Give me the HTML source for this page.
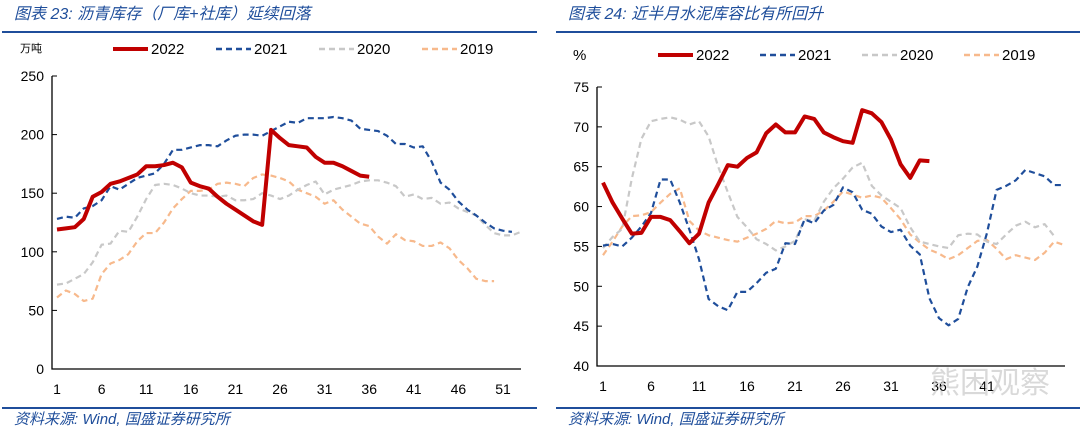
<!DOCTYPE html>
<html><head><meta charset="utf-8">
<style>
html,body{margin:0;padding:0;background:#fff;}
svg{display:block;font-family:"Liberation Sans","Noto Sans CJK SC",sans-serif;}
.ttl{fill:#1f4e9b;font-style:italic;font-size:16px;}
.src{fill:#1f4e9b;font-style:italic;font-size:15px;}
.tk{fill:#000;font-size:14px;}
.lg{fill:#000;font-size:15px;}
</style></head>
<body>
<svg id="c" width="1080" height="434" viewBox="0 0 1080 434">
<text class="ttl" x="14" y="19">图表 23:  沥青库存（厂库+社库）延续回落</text>
<rect x="2" y="31" width="535" height="2" fill="#1f4e9b"/>
<rect x="2" y="407" width="535" height="2" fill="#1f4e9b"/>
<text class="src" x="14" y="424">资料来源:  Wind, 国盛证券研究所</text>
<text class="ttl" x="568" y="19">图表 24:  近半月水泥库容比有所回升</text>
<rect x="556" y="31" width="524" height="2" fill="#1f4e9b"/>
<rect x="556" y="407" width="524" height="2" fill="#1f4e9b"/>
<text class="src" x="568" y="424">资料来源:  Wind, 国盛证券研究所</text>
<text x="20" y="52" font-size="11" fill="#000">万吨</text>
<text x="573" y="60" font-size="15" fill="#000">%</text>
<g id="L"></g>
<g id="R"></g>
<text x="930" y="393" font-size="30" fill="#d0d0d0" opacity="0.8">熊困观察</text>
</svg>
<script>
const years = ["2022","2021","2020","2019"];
const asphalt2022 = [119,120,121,128,147,151,158,160,163,166,173,173,174,176,172,159,156,154,147,141,136,131,126,123,204,197,191,190,189,181,176,176,173,169,165,164];
const asphalt2021 = [128,130,129,137,139,144,156,153,158,163,165,167,175,187,187,189,191,191,190,195,199,200,200,199,203,207,211,210,214,214,214,215,214,212,205,204,203,199,192,192,189,190,177,159,153,143,136,131,125,120,118,117];
const asphalt2020 = [72,73,77,81,91,106,107,118,117,130,145,157,158,157,154,150,148,148,147,148,144,144,145,150,148,145,148,153,157,160,149,153,155,157,160,161,161,159,156,147,149,145,146,141,142,137,134,131,123,116,114,114,117];
const asphalt2019 = [61,67,64,58,60,81,90,93,98,109,116,116,125,137,145,152,152,153,158,159,158,156,163,166,165,163,160,153,150,147,141,144,136,130,124,122,113,107,115,110,109,105,105,108,103,93,86,77,75,75];
const leftYTicks = [0,50,100,150,200,250];
const leftXTicks = [1,6,11,16,21,26,31,36,41,46,51];

const cement2022 = [63.0,60.5,58.5,56.6,56.7,58.7,58.7,58.3,56.9,55.4,56.6,60.5,62.8,65.2,65.0,66.1,66.8,69.2,70.3,69.3,69.3,71.3,71.0,69.3,68.7,68.2,68.0,72.1,71.7,70.6,68.4,65.3,63.6,65.8,65.7];
const cement2021 = [55.1,55.3,55.0,56.1,57.5,59.2,63.4,63.4,60.5,57.1,53.4,48.4,47.5,47.0,49.3,49.3,50.4,51.7,52.2,55.4,55.3,58.4,57.9,59.5,60.2,62.4,61.8,59.6,59.1,57.5,56.8,57.1,55.1,54.0,48.5,46.0,45.1,45.9,49.9,52.5,56.7,62.1,62.6,63.3,64.6,64.2,63.8,62.7,62.7];
const cement2020 = [54.8,56.2,57.2,63.5,68.5,70.7,71.0,71.2,70.9,70.3,70.7,68.8,65.0,61.8,58.7,57.4,55.9,55.3,54.5,55.0,55.7,58.4,58.2,60.6,62.3,63.5,64.9,65.5,62.6,61.4,60.6,59.8,57.4,55.6,55.3,55.0,54.8,56.4,56.6,56.5,55.6,55.3,56.5,57.6,58.1,57.4,57.8,56.3];
const cement2019 = [53.9,55.6,57.5,58.8,58.9,59.3,60.5,61.6,62.3,58.2,57.0,56.4,56.1,55.8,55.6,56.1,56.6,57.2,58.2,57.9,58.0,58.8,58.8,59.5,60.6,61.9,61.5,61.1,61.4,61.1,59.8,58.4,56.5,55.5,54.6,54.1,53.4,53.9,54.8,55.7,55.8,54.7,53.4,53.9,53.6,53.3,54.2,55.6,55.2];
const rightYTicks = [40,45,50,55,60,65,70,75];
const rightXTicks = [1,6,11,16,21,26,31,36,41];

const NS="http://www.w3.org/2000/svg";
const styles=[{c:"#c00000",w:4,d:""},{c:"#1f4e9b",w:2.2,d:"6,4"},{c:"#c8c8c8",w:2.2,d:"6,4"},{c:"#f7b98c",w:2.2,d:"6,4"}];
function mk(tag,attrs,parent){const e=document.createElementNS(NS,tag);for(const k in attrs)e.setAttribute(k,attrs[k]);parent.appendChild(e);return e;}

function chart(g,cfg){
  const xs=w=>cfg.x0+(w-1)*cfg.xs;
  const ys=v=>cfg.yb-(v-cfg.ymin)/(cfg.ymax-cfg.ymin)*(cfg.yb-cfg.yt);
  const ax=mk("path",{d:`M${cfg.ax},${cfg.yt} V${cfg.yb} H${cfg.xr}`,stroke:"#000",fill:"none","stroke-width":1.3},g);
  
  
  cfg.yt_.forEach(v=>{
    const t=mk("path",{d:`M${cfg.ax},${ys(v)} h5`,stroke:"#000"},g);
    
    
    const l=mk("text",{x:cfg.ax-8,y:ys(v)+5,"text-anchor":"end",class:"tk"},g);
    l.textContent=v;
    
    
  });
  cfg.xt.forEach(w=>{
    const l=mk("text",{x:xs(w),y:cfg.yb+25,"text-anchor":"middle",class:"tk"},g);
    l.textContent=w;
    
    
  });
  for(let i=cfg.series.length-1;i>=0;i--){
    const s=cfg.series[i],st=styles[i];
    const p=mk("polyline",{points:s.map((v,j)=>xs(j+1)+","+ys(v)).join(" "),fill:"none",stroke:st.c,"stroke-width":st.w,"stroke-dasharray":st.d,"stroke-linejoin":"round"},g);
    
    
  }
  years.forEach((y,i)=>{
    const st=styles[i],lx=cfg.lgx+i*cfg.lgs;
    const ln=mk("line",{x1:lx,x2:lx+35,y1:cfg.lgy,y2:cfg.lgy,stroke:st.c,"stroke-width":i?2.5:4,"stroke-dasharray":st.d},g);
    
    
    const t=mk("text",{x:lx+38,y:cfg.lgy+5,class:"lg"},g);
    t.textContent=y;
    
    
  });
}
chart(document.getElementById("L"),{x0:57,xs:8.92,ax:52,xr:521,yt:76,yb:369,ymin:0,ymax:250,yt_:leftYTicks,xt:leftXTicks,
  series:[asphalt2022,asphalt2021,asphalt2020,asphalt2019],lgx:113,lgs:103,lgy:49});
chart(document.getElementById("R"),{x0:603,xs:9.6,ax:597,xr:1065,yt:87,yb:366,ymin:40,ymax:75,yt_:rightYTicks,xt:rightXTicks,
  series:[cement2022,cement2021,cement2020,cement2019],lgx:658,lgs:102,lgy:55});
</script>
</body></html>
